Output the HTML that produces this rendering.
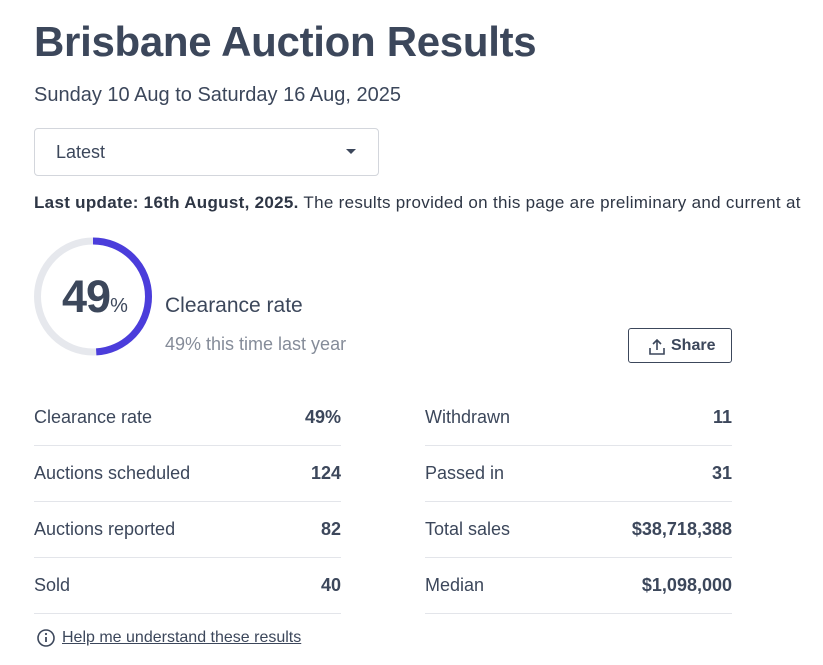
<!DOCTYPE html>
<html><head><style>
body{margin:0;width:823px;height:665px;overflow:hidden;background:#fff;font-family:"Liberation Sans",sans-serif;color:#3c475b;position:relative}
.a{position:absolute;white-space:nowrap}
h1{position:absolute;left:34px;top:18px;margin:0;font-size:42px;font-weight:bold;color:#3c475b;letter-spacing:-0.3px}
.sel{position:absolute;left:34px;top:128px;width:343px;height:46px;border:1px solid #d3d6dc;border-radius:4px}
.row{position:absolute;height:56px;border-bottom:1px solid #e3e5ea;font-size:18px}
.row span{position:absolute;top:18px}
.row b{position:absolute;right:0;top:18px}
</style></head><body>
<h1>Brisbane Auction Results</h1>
<div class="a" style="left:34px;top:84px;font-size:20px">Sunday 10 Aug to Saturday 16 Aug, 2025</div>
<div class="sel"><span class="a" style="left:21px;top:13px;font-size:18px">Latest</span>
<div class="a" style="left:311px;top:20px;width:0;height:0;border-left:5px solid transparent;border-right:5px solid transparent;border-top:5px solid #3c475b"></div></div>
<div class="a" style="left:34px;top:193px;font-size:17px;color:#2e3645;letter-spacing:0.3px"><b>Last update: 16th August, 2025.</b> The results provided on this page are preliminary and current at</div>
<svg class="a" style="left:0;top:0" width="200" height="400">
<circle cx="93" cy="296.5" r="55.5" fill="none" stroke="#e6e8ed" stroke-width="7"/>
<circle cx="93" cy="296.5" r="55.5" fill="none" stroke="#4b3ddb" stroke-width="7" stroke-dasharray="170.9 400" transform="rotate(-90 93 296.5)"/>
</svg>
<div class="a" style="left:62px;top:271px;font-size:45px;font-weight:bold;color:#3c475b;letter-spacing:-1px">49<span style="font-size:20px;font-weight:normal;letter-spacing:0">%</span></div>
<div class="a" style="left:165px;top:294px;font-size:21px">Clearance rate</div>
<div class="a" style="left:165px;top:334px;font-size:18px;color:#858c99">49% this time last year</div>
<div class="a" style="left:628px;top:328px;width:102px;height:33px;border:1px solid #3c475b;border-radius:3px;font-size:16px;font-weight:bold">
<svg class="a" style="left:19px;top:9px" width="18" height="18" viewBox="0 0 18 18" fill="none" stroke="#3c475b" stroke-width="1.6"><path d="M9 12V2M5 6l4-4 4 4M2 10v6h14v-6"/></svg>
<span class="a" style="left:42px;top:8px">Share</span></div>
<div class="row" style="left:34px;top:389px;width:307px"><span>Clearance rate</span><b>49%</b></div>
<div class="row" style="left:34px;top:445px;width:307px"><span>Auctions scheduled</span><b>124</b></div>
<div class="row" style="left:34px;top:501px;width:307px"><span>Auctions reported</span><b>82</b></div>
<div class="row" style="left:34px;top:557px;width:307px"><span>Sold</span><b>40</b></div>
<div class="row" style="left:425px;top:389px;width:307px"><span>Withdrawn</span><b>11</b></div>
<div class="row" style="left:425px;top:445px;width:307px"><span>Passed in</span><b>31</b></div>
<div class="row" style="left:425px;top:501px;width:307px"><span>Total sales</span><b>$38,718,388</b></div>
<div class="row" style="left:425px;top:557px;width:307px"><span>Median</span><b>$1,098,000</b></div>
<svg class="a" style="left:36px;top:628px" width="20" height="20" viewBox="0 0 20 20"><circle cx="10" cy="10" r="8" fill="none" stroke="#3c475b" stroke-width="1.6"/><path d="M10 9v5" stroke="#3c475b" stroke-width="1.8"/><circle cx="10" cy="6" r="1.1" fill="#3c475b"/></svg>
<div class="a" style="left:62px;top:629px;font-size:16px;text-decoration:underline">Help me understand these results</div>
</body></html>
